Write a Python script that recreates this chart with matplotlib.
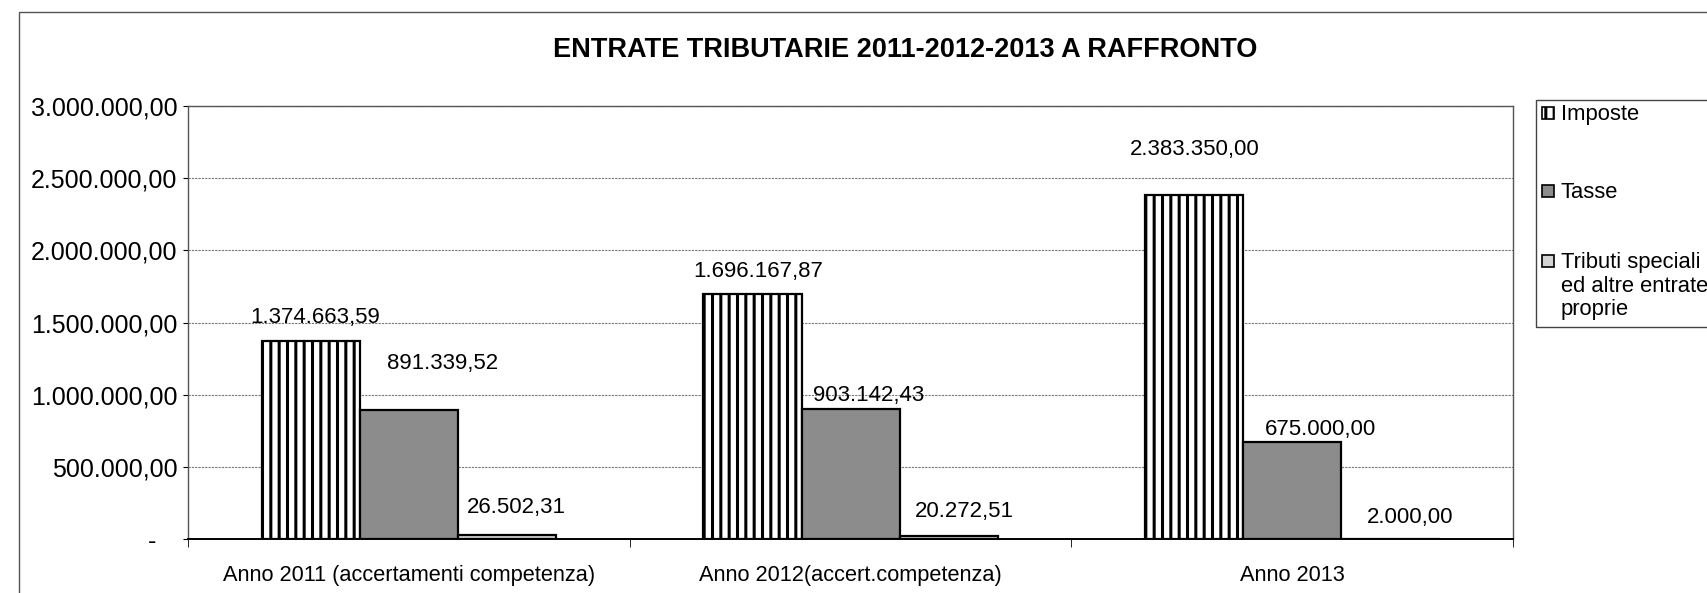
import numpy as np
import matplotlib.pyplot as plt
from matplotlib.patches import Rectangle
from matplotlib.ticker import FuncFormatter, FixedLocator

plt.rcParams['font.family'] = ['Liberation Sans', 'DejaVu Sans']
plt.rcParams['hatch.linewidth'] = 2.2

# data
categories = ["Anno 2011 (accertamenti competenza)", "Anno 2012(accert.competenza)", "Anno 2013"]
imposte = [1374663.59, 1696167.87, 2383350.00]
tasse = [891339.52, 903142.43, 675000.00]
tributi = [26502.31, 20272.51, 2000.00]
series_names = ["Imposte", "Tasse", "Tributi speciali\ned altre entrate\nproprie"]

# label offsets in points (dx, dy from bar top) - hand placed in the original
label_dx = [[3, 24, 7], [4, 13, 11], [0, 20, 14]]
label_dy = [[17, 34, 20], [16.5, 9.5, 17.5], [33, 8.5, 15.5]]


def it_fmt(v):
    s = f"{v:,.2f}"
    return s.replace(",", "X").replace(".", ",").replace("X", ".")


fig = plt.figure(figsize=(17.08, 5.93), dpi=100)
ax = fig.add_axes([0.110, 0.091, 0.776, 0.730])

x = np.arange(len(categories))
w = 0.222
styles = [
    dict(facecolor="white", hatch="||", edgecolor="black"),
    dict(facecolor="#8c8c8c", edgecolor="black"),
    dict(facecolor="#d4d4d4", edgecolor="black"),
]
for i, vals in enumerate([imposte, tasse, tributi]):
    bars = ax.bar(x + (i - 1) * w, vals, width=w, linewidth=1.6, zorder=3, **styles[i])
    for j, b in enumerate(bars):
        ax.annotate(it_fmt(vals[j]), (b.get_x() + b.get_width() / 2, b.get_height()),
                    xytext=(label_dx[j][i], label_dy[j][i]), textcoords="offset points",
                    ha="center", va="center", fontsize=16)

ax.set_xlim(-0.5, len(categories) - 0.5)
ax.set_ylim(0, 3000000)
ax.set_yticks(np.arange(0, 3000001, 500000))
ax.yaxis.set_major_formatter(FuncFormatter(lambda v, p: "-   " if v == 0 else it_fmt(v)))
ax.tick_params(axis="y", labelsize=18, length=3.5, direction="out", pad=4)
ax.grid(axis="y", linestyle=(0, (2, 1)), color="#777777", linewidth=0.8, zorder=0)

ax.set_xticks(x)
ax.set_xticklabels(categories, fontsize=15.7)
ax.tick_params(axis="x", which="major", length=0, pad=19)
ax.xaxis.set_minor_locator(FixedLocator(np.arange(-0.5, len(categories), 1.0)))
ax.tick_params(axis="x", which="minor", length=6, direction="out")

for sp in ax.spines.values():
    sp.set_color("#555555")
    sp.set_linewidth(1.0)
ax.spines["bottom"].set_color("black")
ax.spines["bottom"].set_linewidth(1.4)

fig.suptitle("ENTRATE TRIBUTARIE 2011-2012-2013 A RAFFRONTO", x=0.53, y=0.938,
             fontsize=19.5, fontweight="bold")

# legend drawn by hand so each swatch sits on the first line of its label
W, H = 1708, 593
fig.patches.append(Rectangle((1536 / W, 1 - 327 / H), 0.2, (327 - 100) / H, transform=fig.transFigure,
                             fill=False, edgecolor="#444444", linewidth=1.0))
legend_y = [113, 191, 261]
for i, name in enumerate(series_names):
    yc = legend_y[i]
    fig.patches.append(Rectangle((1542 / W, 1 - (yc + 6) / H), 12 / W, 12 / H, transform=fig.transFigure,
                                 linewidth=1.2, **styles[i]))
    fig.text(1561 / W, 1 - (yc - 9) / H, name, ha="left", va="top", fontsize=15.8, linespacing=1.16)

# outer chart border
fig.patches.append(Rectangle((19 / W, -0.1), 1.2, 1 - 12 / H + 0.1, transform=fig.transFigure,
                             fill=False, edgecolor="#555555", linewidth=1.0))

fig.savefig("out.png", dpi=100)
